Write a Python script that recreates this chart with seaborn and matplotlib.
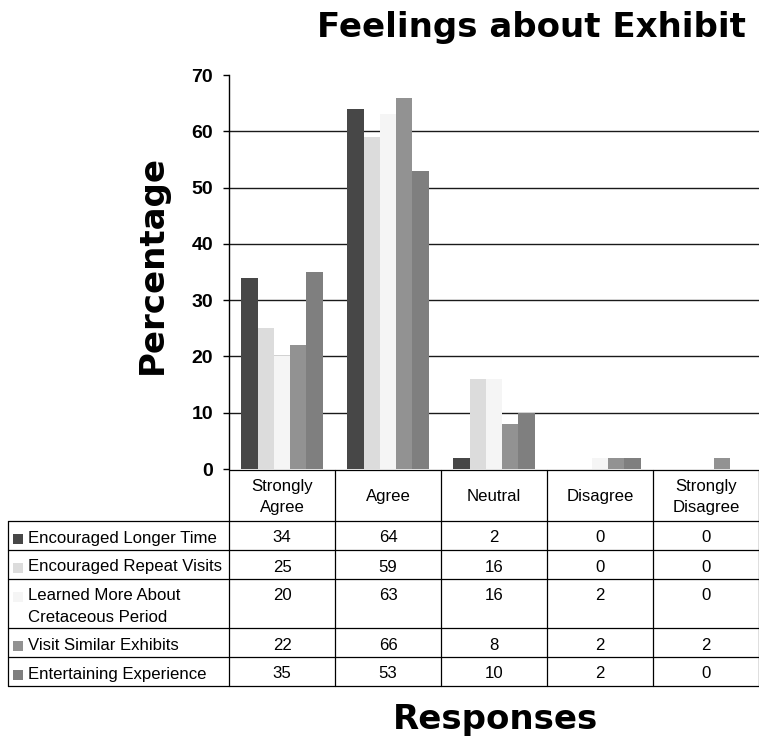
import numpy as np
import pandas as pd
import matplotlib
matplotlib.use("Agg")
import matplotlib.pyplot as plt
import seaborn as sns
from matplotlib.patches import Rectangle

# ---- data -----------------------------------------------------------------
responses = ["Strongly\nAgree", "Agree", "Neutral", "Disagree", "Strongly\nDisagree"]
statements = [
    "Encouraged Longer Time",
    "Encouraged Repeat Visits",
    "Learned More About\nCretaceous Period",
    "Visit Similar Exhibits",
    "Entertaining Experience",
]
encouraged_longer = [34, 64, 2, 0, 0]
encouraged_repeat = [25, 59, 16, 0, 0]
learned_cretaceous = [20, 63, 16, 2, 0]
visit_similar = [22, 66, 8, 2, 2]
entertaining = [35, 53, 10, 2, 0]
series = [encouraged_longer, encouraged_repeat, learned_cretaceous,
          visit_similar, entertaining]
y_ticks = list(range(0, 71, 10))

colors = ["#474747", "#dcdcdc", "#f5f5f5", "#929292", "#7f7f7f"]

df = pd.DataFrame(
    [(s, r, v) for s, vals in zip(statements, series)
     for r, v in zip(responses, vals)],
    columns=["Statement", "Response", "Percentage"],
)

# ---- figure / axes --------------------------------------------------------
sns.set_style("white")
plt.rcParams["font.family"] = ["Liberation Sans", "DejaVu Sans"]
plt.rcParams["text.color"] = "black"
plt.rcParams["ytick.color"] = "black"
plt.rcParams["axes.labelcolor"] = "black"

W, H = 759, 744
fig = plt.figure(figsize=(W / 100, H / 100), dpi=100)
PL, PR, PT, PB = 229, 759, 75, 469
ax = fig.add_axes([PL / W, 1 - PB / H, (PR - PL) / W, (PB - PT) / H])

sns.barplot(data=df, x="Response", y="Percentage", hue="Statement",
            order=responses, hue_order=statements, palette=colors,
            width=0.765, saturation=1, linewidth=0, legend=False, ax=ax)

ax.set_xlim(-0.5, len(responses) - 0.5)
ax.set_ylim(y_ticks[0], y_ticks[-1])
ax.set_yticks(y_ticks)
ax.set_xticks([])
ax.set_xlabel("")
ax.set_ylabel("")
for side in ("top", "right", "bottom"):
    ax.spines[side].set_visible(False)
ax.spines["left"].set_color("black")
ax.spines["left"].set_linewidth(1.0)
ax.tick_params(axis="y", left=True, length=4.5, width=1, color="black",
               labelcolor="black", pad=7, labelsize=14)
for lbl in ax.get_yticklabels():
    lbl.set_fontweight("bold")
ax.hlines(y_ticks[1:-1], *ax.get_xlim(), colors="#1a1a1a", lw=1.0, zorder=0)
ax.set_axisbelow(True)

# ---- data table under the plot (pixel coordinates) -------------------------
tab = fig.add_axes([0, 0, 1, 1])
tab.set_xlim(0, W)
tab.set_ylim(H, 0)
tab.axis("off")

lw = 0.9
fs = 12.1
TL = 8
col_w = (PR - PL) / len(responses)
col_edges = [PL + i * col_w for i in range(len(responses) + 1)]
head_top, head_bot = PB + 0.5, 521

row_edges = [head_bot]
for s in statements:
    row_edges.append(row_edges[-1] + 29 + 20 * s.count("\n"))
tab_bot = row_edges[-1]

# horizontal rules
tab.plot([PL, W], [head_top, head_top], color="black", lw=lw)
for y in row_edges:
    tab.plot([TL, W], [y, y], color="black", lw=lw)
# vertical rules
tab.plot([TL, TL], [head_bot, tab_bot], color="black", lw=lw)
for x in col_edges[:-1]:
    tab.plot([x, x], [head_top, tab_bot], color="black", lw=lw)
tab.plot([W - 0.5, W - 0.5], [head_top, tab_bot], color="black", lw=lw)

# header cells
head_mid = (head_top + head_bot) / 2
for i, r in enumerate(responses):
    lines = r.split("\n")
    cx = (col_edges[i] + col_edges[i + 1]) / 2
    for k, line in enumerate(lines):
        tab.text(cx, head_mid + 6 + (k - (len(lines) - 1) / 2) * 21, line,
                 ha="center", va="baseline", fontsize=fs)

# body rows
for j, (s, vals, c) in enumerate(zip(statements, series, colors)):
    top = row_edges[j]
    base = top + 21.5
    tab.add_patch(Rectangle((13, top + 12.5), 10, 10, facecolor=c,
                            edgecolor="none"))
    for k, line in enumerate(s.split("\n")):
        tab.text(28, base + 22 * k, line, ha="left", va="baseline",
                 fontsize=fs)
    for i, v in enumerate(vals):
        tab.text((col_edges[i] + col_edges[i + 1]) / 2, base, str(v),
                 ha="center", va="baseline", fontsize=fs)

# titles
big = dict(fontweight="bold", family=["DejaVu Sans"], fontsize=24.5,
           color="black")
tab.text(531, 28, "Feelings about Exhibit", ha="center", va="center", **big)
tab.text(152, 265, "Percentage", ha="center", va="center", rotation=90, **big)
tab.text(495, 720, "Responses", ha="center", va="center", **big)

fig.savefig("out.png", dpi=100)
